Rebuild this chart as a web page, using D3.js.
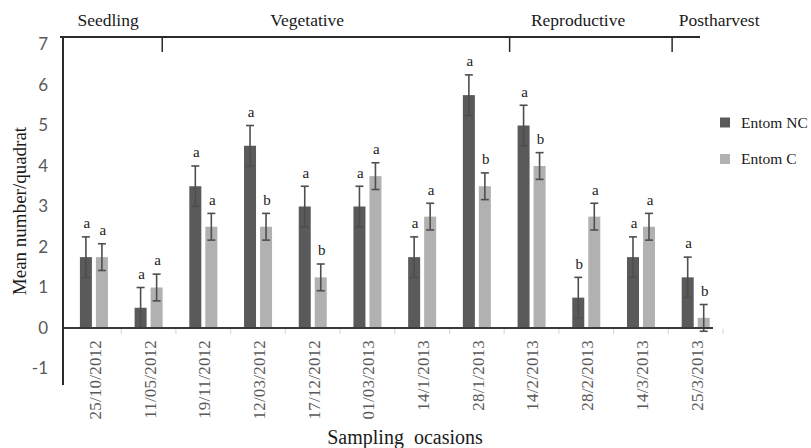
<!DOCTYPE html>
<html>
<head>
<meta charset="utf-8">
<script src="https://cdn.jsdelivr.net/npm/d3@7"></script>
<style>
  html, body { margin: 0; padding: 0; background: #fff; }
  svg { display: block; }
  .serif { font-family: "Liberation Serif", Tinos, "Times New Roman", Times, "DejaVu Serif", "Noto Serif", serif; }
</style>
</head>
<body>
<svg id="chart" width="811" height="448"></svg>
<script>
// ---- data ----
const categories = ["25/10/2012","11/05/2012","19/11/2012","12/03/2012","17/12/2012","01/03/2013","14/1/2013","28/1/2013","14/2/2013","28/2/2013","14/3/2013","25/3/2013"];
const seriesNames = ["Entom NC", "Entom C"];
const entomNC = [1.75, 0.5, 3.5, 4.5, 3.0, 3.0, 1.75, 5.75, 5.0, 0.75, 1.75, 1.25];
const entomC  = [1.75, 1.0, 2.5, 2.5, 1.25, 3.75, 2.75, 3.5, 4.0, 2.75, 2.5, 0.25];
const errNC   = [0.5, 0.5, 0.5, 0.5, 0.5, 0.5, 0.5, 0.5, 0.5, 0.5, 0.5, 0.5];
const errC    = [0.33, 0.33, 0.33, 0.33, 0.33, 0.33, 0.33, 0.33, 0.33, 0.33, 0.33, 0.33];
const lettersNC = ["a","a","a","a","a","a","a","a","a","b","a","a"];
const lettersC  = ["a","a","a","b","b","a","a","b","b","a","a","b"];
const yTicks = [-1, 0, 1, 2, 3, 4, 5, 6, 7];
const phases = ["Seedling", "Vegetative", "Reproductive", "Postharvest"];
// phase boundaries and label centres, in sampling-occasion units
const phaseDividers = [1.75, 8.1, 11.07];
const phaseLabelPos = [0.76, 4.4, 9.35, 11.93];

// ---- layout ----
const colors = { "Entom NC": "#5a5a5a", "Entom C": "#b1b1b1" };
const svg = d3.select("#chart");

const x = d3.scaleBand().domain(categories).range([66.5, 723]).paddingInner(0).paddingOuter(0);
const x1 = d3.scaleBand().domain(seriesNames)
  .range([x.bandwidth() * 0.245, x.bandwidth() * 0.757]).paddingInner(0.25);
const y = d3.scaleLinear().domain([-1, 7]).range([368.5, 44.5]);
const xu = d3.scaleLinear().domain([0, categories.length]).range(x.range());

const rows = categories.map((c, i) => ({
  cat: c,
  vals: [
    { s: "Entom NC", v: entomNC[i], e: errNC[i], l: lettersNC[i] },
    { s: "Entom C",  v: entomC[i],  e: errC[i],  l: lettersC[i] }
  ]
}));

// bars
const g = svg.append("g");
const grp = g.selectAll("g.cat").data(rows).join("g")
  .attr("transform", d => `translate(${x(d.cat)},0)`);

grp.selectAll("rect").data(d => d.vals).join("rect")
  .attr("x", d => x1(d.s))
  .attr("width", x1.bandwidth())
  .attr("y", d => y(Math.max(0, d.v)))
  .attr("height", d => Math.abs(y(d.v) - y(0)))
  .attr("fill", d => colors[d.s]);

// error bars
const eb = grp.selectAll("g.err").data(d => d.vals).join("g")
  .attr("class", "err")
  .attr("transform", d => `translate(${x1(d.s) + x1.bandwidth() / 2},0)`)
  .attr("stroke", "#4e4e4e").attr("stroke-width", 1.6);
eb.append("line").attr("x1", 0).attr("x2", 0)
  .attr("y1", d => y(d.v - d.e)).attr("y2", d => y(d.v + d.e));
eb.append("line").attr("x1", -4).attr("x2", 4)
  .attr("y1", d => y(d.v + d.e)).attr("y2", d => y(d.v + d.e));
eb.append("line").attr("x1", -4).attr("x2", 4)
  .attr("y1", d => y(d.v - d.e)).attr("y2", d => y(d.v - d.e));

// significance letters
grp.selectAll("text.sig").data(d => d.vals).join("text")
  .attr("class", "sig serif")
  .attr("x", d => x1(d.s) + x1.bandwidth() / 2 + 1)
  .attr("y", d => y(d.v + d.e) - 14)
  .attr("dy", "0.35em")
  .attr("text-anchor", "middle")
  .attr("font-size", 15).attr("fill", "#222")
  .text(d => d.l);

// x axis line + light ticks
svg.append("line").attr("x1", 63).attr("x2", 713).attr("y1", y(0)).attr("y2", y(0))
  .attr("stroke", "#3a3a3a").attr("stroke-width", 2);
svg.append("g").selectAll("line").data(d3.range(1, categories.length + 1)).join("line")
  .attr("x1", d => xu(d)).attr("x2", d => xu(d))
  .attr("y1", y(0) + 1).attr("y2", y(0) + 6)
  .attr("stroke", "#d4d4d4").attr("stroke-width", 1);

// x tick labels (rotated)
svg.append("g").selectAll("text").data(categories).join("text")
  .attr("class", "serif")
  .attr("transform", d => `translate(${x(d) + x.bandwidth() / 2 + 1},340) rotate(-90)`)
  .attr("dy", "0.35em")
  .attr("text-anchor", "end")
  .attr("font-size", 17).attr("fill", "#595959")
  .attr("letter-spacing", "0.2px")
  .text(d => d);

// y axis
const yAxis = d3.axisLeft(y).tickValues(yTicks).tickSize(0).tickPadding(15)
  .tickFormat(d => String(d));
const ya = svg.append("g").attr("transform", "translate(63,0)").call(yAxis);
ya.select(".domain").remove();
ya.attr("font-family", null);
ya.selectAll("text").style("font-family", "Lato, 'Open Sans', sans-serif")
  .attr("font-size", 17).attr("fill", "#595959");
svg.append("line").attr("x1", 63).attr("x2", 63).attr("y1", 36).attr("y2", 385)
  .attr("stroke", "#2a2a2a").attr("stroke-width", 2);

// phase bar
svg.append("line").attr("x1", 60).attr("x2", 700).attr("y1", 37).attr("y2", 37)
  .attr("stroke", "#2a2a2a").attr("stroke-width", 2);
svg.append("g").selectAll("line").data(phaseDividers).join("line")
  .attr("x1", d => xu(d)).attr("x2", d => xu(d))
  .attr("y1", 37).attr("y2", 52)
  .attr("stroke", "#2a2a2a").attr("stroke-width", 1.5);
svg.append("g").selectAll("text").data(phases).join("text")
  .attr("class", "serif")
  .attr("x", (d, i) => xu(phaseLabelPos[i]))
  .attr("y", 26)
  .attr("text-anchor", "middle")
  .attr("font-size", 17.5).attr("fill", "#1a1a1a")
  .text(d => d);

// axis titles
svg.append("text")
  .attr("class", "serif")
  .attr("transform", "translate(19,211) rotate(-90)")
  .attr("dy", "0.35em")
  .attr("text-anchor", "middle")
  .attr("font-size", 19).attr("fill", "#1a1a1a")
  .text("Mean number/quadrat");
svg.append("text")
  .attr("class", "serif")
  .attr("x", 405).attr("y", 444)
  .attr("text-anchor", "middle")
  .attr("font-size", 20).attr("fill", "#1a1a1a")
  .style("white-space", "pre")
  .text("Sampling  ocasions");

// legend
const lg = svg.append("g").selectAll("g").data(seriesNames).join("g")
  .attr("transform", (d, i) => `translate(720,${122.5 + i * 36.5})`);
lg.append("rect").attr("x", 0).attr("y", -5).attr("width", 10).attr("height", 10)
  .attr("fill", d => colors[d]);
lg.append("text").attr("class", "serif").attr("x", 21).attr("y", 0).attr("dy", "0.35em")
  .attr("font-size", 15.5).attr("fill", "#1a1a1a")
  .text(d => d);
</script>
</body>
</html>
